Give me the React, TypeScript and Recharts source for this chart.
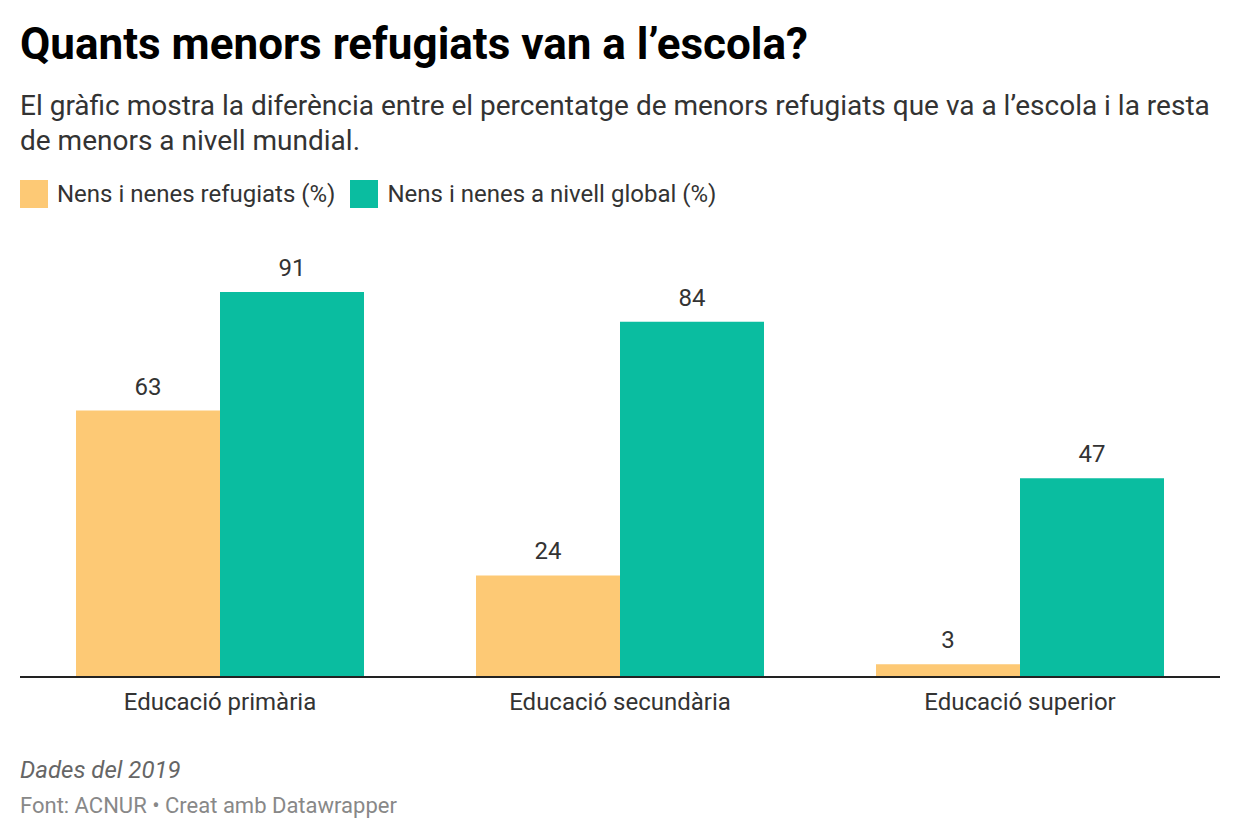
import React from "react";
import { BarChart, Bar, XAxis, YAxis, LabelList } from "recharts";

const categories = ["Educació primària", "Educació secundària", "Educació superior"];
const refugiats = [63, 24, 3];
const global = [91, 84, 47];

const data = categories.map((c, i) => ({
  cat: c,
  refugiats: refugiats[i],
  global: global[i],
}));

const ORANGE = "#fdc975";
const GREEN = "#0abda0";
const FONT = "Roboto, 'Noto Sans', sans-serif";

export default function App() {
  return (
    <div
      style={{
        position: "relative",
        width: 1240,
        height: 840,
        background: "#fff",
        fontFamily: FONT,
        color: "#222",
      }}
    >
      <style>{"body{margin:0}"}</style>
      <div
        style={{
          position: "absolute",
          left: 20,
          top: 19,
          fontSize: 44,
          fontWeight: 700,
          lineHeight: "50px",
          color: "#000",
          whiteSpace: "nowrap",
        }}
      >
        Quants menors refugiats van a l’escola?
      </div>
      <div
        style={{
          position: "absolute",
          left: 20,
          top: 88,
          fontSize: 28,
          lineHeight: "35px",
          color: "#333",
          whiteSpace: "nowrap",
        }}
      >
        El gràfic mostra la diferència entre el percentatge de menors refugiats que va a l’escola i la resta
        <br />
        de menors a nivell mundial.
      </div>
      <div
        style={{
          position: "absolute",
          left: 20,
          top: 180,
          display: "flex",
          alignItems: "center",
          fontSize: 24,
          color: "#333",
          lineHeight: "28px",
          whiteSpace: "nowrap",
        }}
      >
        <span style={{ width: 28, height: 28, background: ORANGE, marginRight: 9 }} />
        <span>Nens i nenes refugiats (%)</span>
        <span style={{ width: 28, height: 28, background: GREEN, marginLeft: 15, marginRight: 9 }} />
        <span>Nens i nenes a nivell global (%)</span>
      </div>

      <div style={{ position: "absolute", left: 20, top: 230 }}>
        <BarChart
          width={1200}
          height={497}
          data={data}
          margin={{ top: 24, right: 0, bottom: 0, left: 0 }}
          barCategoryGap="14%"
          barGap={0}
        >
          <XAxis
            dataKey="cat"
            height={50}
            tickLine={false}
            tickSize={0}
            tickMargin={16}
            axisLine={{ stroke: "#222", strokeWidth: 2 }}
            tick={{ fontSize: 24, fill: "#333", fontFamily: FONT }}
          />
          <YAxis hide domain={[0, 100]} />
          <Bar dataKey="refugiats" fill={ORANGE} isAnimationActive={false}>
            <LabelList dataKey="refugiats" position="top" offset={16} style={{ fontSize: 24, fill: "#333", fontFamily: FONT }} />
          </Bar>
          <Bar dataKey="global" fill={GREEN} isAnimationActive={false}>
            <LabelList dataKey="global" position="top" offset={16} style={{ fontSize: 24, fill: "#333", fontFamily: FONT }} />
          </Bar>
        </BarChart>
      </div>

      <div
        style={{
          position: "absolute",
          left: 20,
          top: 756,
          fontSize: 24,
          lineHeight: "28px",
          fontStyle: "italic",
          color: "#666",
          whiteSpace: "nowrap",
        }}
      >
        Dades del 2019
      </div>
      <div
        style={{
          position: "absolute",
          left: 20,
          top: 793,
          fontSize: 22,
          lineHeight: "26px",
          color: "#888",
          whiteSpace: "nowrap",
        }}
      >
        Font: ACNUR • Creat amb Datawrapper
      </div>
    </div>
  );
}
